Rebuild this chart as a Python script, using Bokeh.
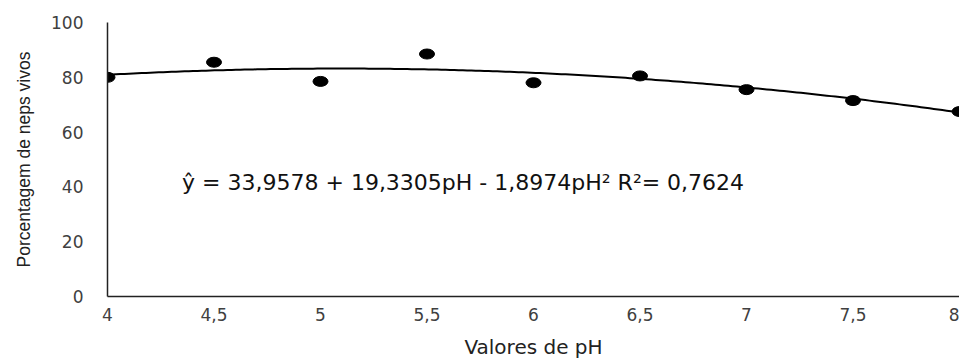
from bokeh.plotting import figure
from bokeh.models import Range1d, FixedTicker, Label
from bokeh.embed import file_html
from bokeh.resources import INLINE
import numpy as np

# data
ph = [4, 4.5, 5, 5.5, 6, 6.5, 7, 7.5, 8]
vivos = [80, 85.5, 78.5, 88.5, 78, 80.5, 75.5, 71.5, 67.5]
x_ticks = [4, 4.5, 5, 5.5, 6, 6.5, 7, 7.5, 8]
x_tick_labels = ["4", "4,5", "5", "5,5", "6", "6,5", "7", "7,5", "8"]
y_ticks = [0, 20, 40, 60, 80, 100]
# trendline coefficients (as printed on the chart)
b0, b1, b2 = 33.9578, 19.3305, -1.8974
equation = "ŷ = 33,9578 + 19,3305pH - 1,8974pH² R²= 0,7624"

p = figure(width=959, height=361, output_backend="svg", toolbar_location=None,
           x_range=Range1d(4, 8), y_range=Range1d(0, 100),
           min_border_left=107, min_border_right=0, min_border_top=22, min_border_bottom=64)
p.outline_line_color = None
p.xgrid.visible = False
p.ygrid.visible = False
p.background_fill_color = "white"
p.border_fill_color = "white"

xs = np.linspace(4, 8, 200)
p.line(xs, b0 + b1 * xs + b2 * xs ** 2, line_color="black", line_width=2)
p.ellipse(ph, vivos, width=15, height=10, width_units="screen", height_units="screen",
          fill_color="black", line_color="black")

tick_font = "DejaVu Sans"
p.xaxis.ticker = FixedTicker(ticks=x_ticks)
p.xaxis.major_label_overrides = {t: l for t, l in zip(x_ticks, x_tick_labels)}
p.yaxis.ticker = FixedTicker(ticks=y_ticks)
for ax in (p.xaxis, p.yaxis):
    ax.major_tick_in = 0
    ax.major_tick_out = 0
    ax.minor_tick_in = 0
    ax.minor_tick_out = 0
    ax.axis_line_color = "#222222"
    ax.axis_line_width = 1.5
    ax.major_label_text_font = tick_font
    ax.major_label_text_font_size = "17px"
    ax.major_label_text_color = "#404040"
    ax.axis_label_text_font_style = "normal"
    ax.axis_label_text_color = "#222222"

p.xaxis.major_label_standoff = 11
p.yaxis.major_label_standoff = 24
p.xaxis.axis_label = "Valores de pH"
p.xaxis.axis_label_text_font = "DejaVu Sans"
p.xaxis.axis_label_text_font_size = "20px"
p.xaxis.axis_label_standoff = 11
p.yaxis.axis_label = "Porcentagem de neps vivos"
p.yaxis.axis_label_text_font = "Liberation Sans"
p.yaxis.axis_label_text_font_size = "17.5px"
p.yaxis.axis_label_standoff = 14

p.add_layout(Label(x=4.35, y=41.5, text=equation, text_font="DejaVu Sans",
                   text_font_size="22px", text_color="#111111",
                   text_align="left", text_baseline="middle"))

open("out.html", "w").write(file_html(p, INLINE))
